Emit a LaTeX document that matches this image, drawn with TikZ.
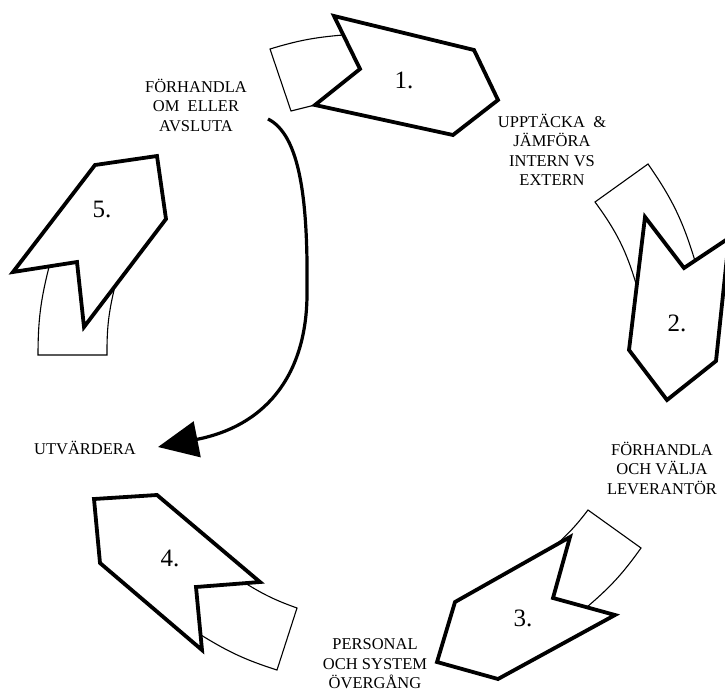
\documentclass[tikz,border=0pt]{standalone}
\usepackage{fontspec}
\setmainfont{Liberation Serif}
\usetikzlibrary{arrows.meta, positioning}

\begin{document}
\begin{tikzpicture}[x=1pt, y=1pt, >={Triangle[length=40pt,width=36pt]}]
\tikzstyle{tail}=[draw=black,fill=white,line width=1.1pt]
\tikzstyle{chev}=[draw=black,fill=white,line width=3.8pt]
\tikzstyle{num}=[font=\fontsize{25}{25}\selectfont]
\tikzstyle{lbl}=[font=\fontsize{16.5}{19.5}\selectfont,align=center,inner sep=0pt]

\useasboundingbox (0,0) rectangle (725,-693);

\draw[tail] (291,-111) -- (270,-49) to[bend left=6] (343,-35) -- (400,-70) -- (315,-105) -- cycle;
\draw[chev] (334,-16) -- (474,-50) -- (498,-100) -- (453,-135) -- (315,-105) -- (360,-69) -- cycle;
\node[num] (n1) at (404,-80) {1.};

\draw[tail] (595,-202) -- (648,-164) to[bend left=9] (695,-261) -- (670,-300) -- (637,-287) to[bend right=10] (595,-202) -- cycle;
\draw[chev] (645,-217) -- (684,-268) -- (729,-238) -- (716,-361) -- (667,-400) -- (629,-350) -- cycle;
\node[num] (n2) at (677,-323) {2.};

\draw[tail] (557,-544) to[bend right=5] (588,-510) -- (641,-548) to[bend left=7] (587,-607) -- (530,-610) -- (557,-544) -- cycle;
\draw[chev] (570,-537) -- (553,-598) -- (615,-615) -- (498,-679) -- (437,-662) -- (455,-602) -- cycle;
\node[num] (n3) at (523,-618) {3.};

\draw[tail] (245,-583) to[bend right=6] (297,-608) -- (277,-670) to[bend left=7] (201,-635) -- (180,-570) -- (245,-583) -- cycle;
\draw[chev] (94,-499) -- (157,-495) -- (260,-582) -- (196,-587) -- (202,-650) -- (100,-563) -- cycle;
\node[num] (n4) at (170,-558) {4.};

\draw[tail] (49,-267) to[bend right=7] (38,-355) -- (107,-355) to[bend left=7] (115,-286) -- (80,-240) -- (49,-267) -- cycle;
\draw[chev] (95,-165) -- (157,-156) -- (166,-219) -- (84,-327) -- (77,-262) -- (13,-272) -- cycle;
\node[num] (n5) at (102,-209) {5.};

\node[lbl] (fa) at (196,-105) {FÖRHANDLA\\OM\ \ ELLER\\AVSLUTA};
\node[lbl] (uj) at (552,-150) {UPPTÄCKA\ \ \&\\JÄMFÖRA\\INTERN VS\\EXTERN};
\node[lbl] (fv) at (662,-468) {FÖRHANDLA\\OCH VÄLJA\\LEVERANTÖR};
\node[lbl] (po) at (375,-664) {PERSONAL\\OCH SYSTEM\\ÖVERGÅNG};
\node[lbl] (ut) at (85,-448) {UTVÄRDERA};

\coordinate (s) at (268,-119);
\coordinate (e) at (158,-447);
\draw[->, line width=3.2pt] (s) .. controls (300,-135) and (308,-200) .. (307,-290)
  .. controls (308,-370) and (270,-425) .. (e);
\end{tikzpicture}
\end{document}
